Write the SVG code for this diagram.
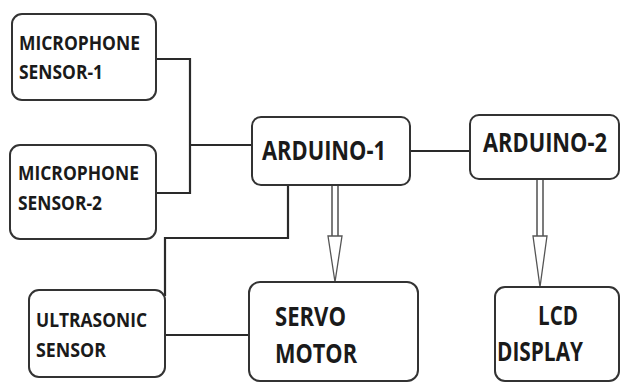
<svg xmlns="http://www.w3.org/2000/svg" width="623" height="383" viewBox="0 0 623 383">
<style>
.box{fill:#fff;stroke:#333;stroke-width:2}
.ln{fill:none;stroke:#2a2a2a;stroke-width:2.2}
.sh{fill:none;stroke:#444;stroke-width:1.4}
.hd{fill:#fff;stroke:#555;stroke-width:1.3}
text{font-family:"Open Sans","Liberation Sans",sans-serif;font-weight:bold;fill:#1a1a1a}
.s{font-size:19px}
.m{font-size:26px}
.l{font-size:23px}
</style>
<rect width="623" height="383" fill="#fff"/>
<g id="connectors">
<path class="ln" d="M156 59 H190 V193 H155"/>
<path class="ln" d="M190 145 H252"/>
<path class="ln" d="M410 151 H470"/>
<path class="ln" d="M288 185 V238 H165 V296"/>
<path class="ln" d="M165 335 H250"/>
<path class="sh" d="M332 185 V236 M338 185 V236"/>
<polygon class="hd" points="328,236 342,236 335,282"/>
<path class="sh" d="M537 179 V236 M543 179 V236"/>
<polygon class="hd" points="533,236 547,236 540,287"/>
</g>
<g id="mic1">
<rect class="box" x="12" y="14" width="144" height="86" rx="10"/>
<text class="s" x="19" y="50" textLength="121" lengthAdjust="spacingAndGlyphs">MICROPHONE</text>
<text class="s" x="19" y="79" textLength="84" lengthAdjust="spacingAndGlyphs">SENSOR-1</text>
</g>
<g id="mic2">
<rect class="box" x="10" y="145" width="146" height="94" rx="10"/>
<text class="s" x="18" y="180" textLength="121" lengthAdjust="spacingAndGlyphs">MICROPHONE</text>
<text class="s" x="18" y="210" textLength="84" lengthAdjust="spacingAndGlyphs">SENSOR-2</text>
</g>
<g id="arduino1">
<rect class="box" x="252" y="117" width="158" height="68" rx="9"/>
<text class="l" transform="translate(262,160) scale(1,1.14)" textLength="124" lengthAdjust="spacingAndGlyphs">ARDUINO-1</text>
</g>
<g id="arduino2">
<rect class="box" x="470" y="115" width="149" height="64" rx="9"/>
<text class="l" transform="translate(483,152) scale(1,1.14)" textLength="124" lengthAdjust="spacingAndGlyphs">ARDUINO-2</text>
</g>
<g id="ultrasonic">
<rect class="box" x="29" y="290" width="136" height="87" rx="10"/>
<text class="s" x="36" y="327" textLength="111" lengthAdjust="spacingAndGlyphs">ULTRASONIC</text>
<text class="s" x="36" y="357" textLength="70" lengthAdjust="spacingAndGlyphs">SENSOR</text>
</g>
<g id="servo">
<rect class="box" x="249" y="282" width="169" height="99" rx="11"/>
<text class="m" x="275" y="326" textLength="71" lengthAdjust="spacingAndGlyphs">SERVO</text>
<text class="m" x="275" y="363" textLength="82" lengthAdjust="spacingAndGlyphs">MOTOR</text>
</g>
<g id="lcd">
<rect class="box" x="495" y="287" width="124" height="94" rx="10"/>
<text class="m" x="538" y="325" textLength="40" lengthAdjust="spacingAndGlyphs">LCD</text>
<text class="m" x="497" y="361" textLength="86" lengthAdjust="spacingAndGlyphs">DISPLAY</text>
</g>
</svg>
